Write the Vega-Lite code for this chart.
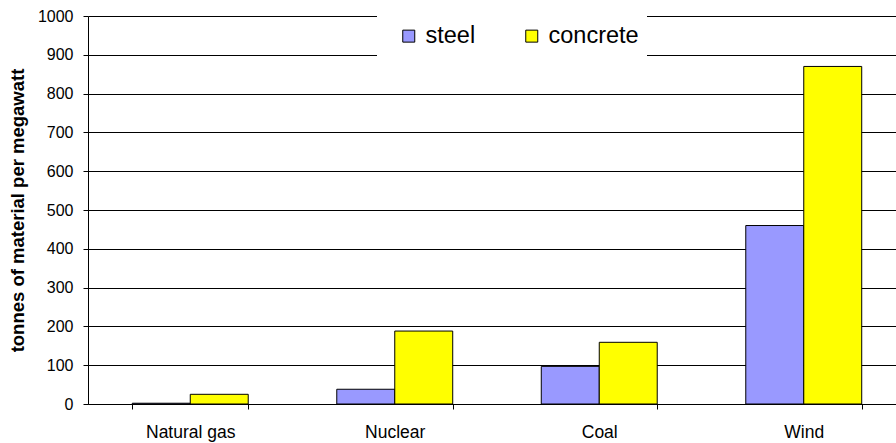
{
  "$schema": "https://vega.github.io/schema/vega-lite/v6.json",
  "autosize": {"type": "none"},
  "padding": {"left": 88, "top": 16, "right": 0, "bottom": 39},
  "width": 818,
  "height": 388,
  "background": "white",
  "config": {
    "view": {"stroke": null},
    "font": "Liberation Sans",
    "axis": {"labelFont": "Liberation Sans", "titleFont": "Liberation Sans", "labelColor": "#000", "titleColor": "#000", "domainColor": "#000", "tickColor": "#000"}
  },
  "data": {
    "values": [
      {"source": "Natural gas", "material": "steel", "tonnes": 2},
      {"source": "Natural gas", "material": "concrete", "tonnes": 25},
      {"source": "Nuclear", "material": "steel", "tonnes": 38},
      {"source": "Nuclear", "material": "concrete", "tonnes": 188},
      {"source": "Coal", "material": "steel", "tonnes": 97},
      {"source": "Coal", "material": "concrete", "tonnes": 159},
      {"source": "Wind", "material": "steel", "tonnes": 460},
      {"source": "Wind", "material": "concrete", "tonnes": 870}
    ]
  },
  "mark": {"type": "bar", "stroke": "#000", "strokeWidth": 1},
  "encoding": {
    "x": {
      "field": "source", "type": "nominal",
      "sort": ["Natural gas", "Nuclear", "Coal", "Wind"],
      "scale": {"paddingInner": 0.433, "paddingOuter": 0.2165},
      "axis": {"title": null, "labelAngle": 0, "labelFontSize": 17.5, "labelPadding": 14, "tickBand": "extent", "tickSize": 5, "domainWidth": 1, "grid": false}
    },
    "xOffset": {"field": "material", "type": "nominal", "sort": ["steel", "concrete"]},
    "y": {
      "field": "tonnes", "type": "quantitative",
      "scale": {"domain": [0, 1000], "nice": false},
      "axis": {"title": "tonnes of material per megawatt", "titleFontSize": 18.5, "titleFontWeight": "bold", "titlePadding": 10, "values": [0,100,200,300,400,500,600,700,800,900,1000], "format": "d", "labelFontSize": 16, "labelPadding": 10, "tickSize": 5, "grid": true, "gridColor": "#000", "gridWidth": 1, "gridOpacity": 1}
    },
    "color": {
      "field": "material", "type": "nominal",
      "sort": ["steel", "concrete"],
      "scale": {"domain": ["steel", "concrete"], "range": ["#9999FF", "#FFFF00"]},
      "legend": {
        "title": null, "orient": "none", "direction": "horizontal",
        "legendX": 289, "legendY": 0,
        "fillColor": "white", "strokeColor": null, "padding": 8,
        "symbolType": "square", "symbolSize": 144, "symbolStrokeColor": "#000", "symbolStrokeWidth": 1, "symbolOffset": 12,
        "labelFontSize": 23.5, "labelOffset": 5, "columnPadding": 32, "labelColor": "#000", "labelFont": "Liberation Sans"
      }
    }
  }
}
